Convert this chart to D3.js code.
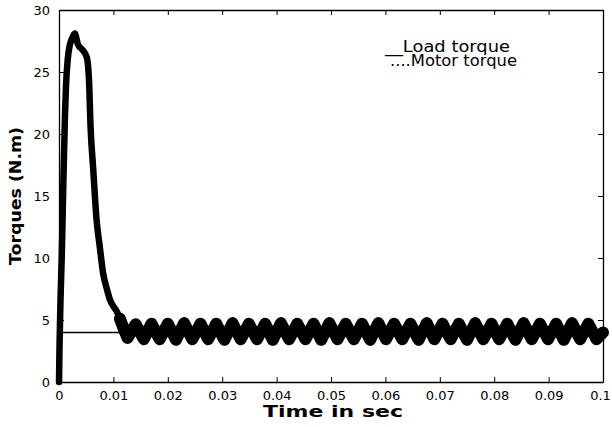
<!DOCTYPE html>
<html>
<head>
<meta charset="utf-8">
<script src="https://cdn.jsdelivr.net/npm/d3@7"></script>
<style>
  body { margin: 0; background: white; }
  text { font-family: "DejaVu Sans", sans-serif; fill: black; }
</style>
</head>
<body>
<svg id="chart" width="612" height="427"></svg>
<script>
// start-up part of the motor torque
var startT  = [0, 0.0001, 0.0003, 0.0005, 0.0007, 0.0009, 0.0011, 0.0013, 0.0016, 0.0020, 0.0025, 0.0029,
               0.0035, 0.0043, 0.0051, 0.0055, 0.0058, 0.0063, 0.0069, 0.0075, 0.0081, 0.0088, 0.0094,
               0.0100, 0.0106, 0.0112, 0.0118]
var startTq = [0, 3, 7, 10, 14, 18, 21.5, 24, 26, 27.2, 27.8, 28.1,
               27.2, 26.8, 26.2, 24.5, 20.6, 17.1, 13.1, 10.9, 8.8, 7.5, 6.6,
               6.1, 5.7, 5.1, 4.4]

// ripple in steady state: tops and bottoms of each wave
var peakT  = [0.0141, 0.0170, 0.0200, 0.0230, 0.0260, 0.0289, 0.0319, 0.0349, 0.0379, 0.0408,
              0.0438, 0.0468, 0.0497, 0.0527, 0.0557, 0.0587, 0.0616, 0.0646, 0.0676, 0.0705,
              0.0735, 0.0765, 0.0795, 0.0824, 0.0854, 0.0884, 0.0914, 0.0943, 0.0973]
var peakTq = [4.65, 4.7, 4.7, 4.75, 4.7, 4.7, 4.75, 4.7, 4.7, 4.75,
              4.7, 4.7, 4.75, 4.7, 4.7, 4.75, 4.7, 4.7, 4.75, 4.7,
              4.7, 4.75, 4.7, 4.7, 4.75, 4.7, 4.7, 4.75, 4.7]
var troughT  = [0.0126, 0.0156, 0.0185, 0.0215, 0.0245, 0.0274, 0.0304, 0.0334, 0.0364, 0.0393,
                0.0423, 0.0453, 0.0482, 0.0512, 0.0542, 0.0572, 0.0601, 0.0631, 0.0661, 0.0690,
                0.0720, 0.0750, 0.0780, 0.0809, 0.0839, 0.0869, 0.0899, 0.0928, 0.0958, 0.0988]
var troughTq = [3.55, 3.45, 3.45, 3.4, 3.45, 3.45, 3.4, 3.45, 3.45, 3.4,
                3.45, 3.45, 3.4, 3.45, 3.45, 3.4, 3.45, 3.45, 3.4, 3.45,
                3.45, 3.4, 3.45, 3.45, 3.4, 3.45, 3.45, 3.4, 3.45, 3.45]
var endT = [0.1000]
var endTq = [4.0]

var loadTorque = 4

var xTicks = [0, 0.01, 0.02, 0.03, 0.04, 0.05, 0.06, 0.07, 0.08, 0.09, 0.1]
var xTickLabels = ['0', '0.01', '0.02', '0.03', '0.04', '0.05', '0.06', '0.07', '0.08', '0.09', '0.1']
var yTicks = [0, 5, 10, 15, 20, 25, 30]

var svg = d3.select('#chart')
var margin = {left: 59, top: 10, right: 9, bottom: 45}
var W = 612 - margin.left - margin.right
var H = 427 - margin.top - margin.bottom

var x = d3.scaleLinear().domain([0, 0.1]).range([0, W])
var y = d3.scaleLinear().domain([0, 30]).range([H, 0])

var g = svg.append('g').attr('transform', `translate(${margin.left},${margin.top})`)

// put all motor points together, sorted by time
var motor = []
startT.forEach((t, i) => motor.push([t, startTq[i]]))
peakT.forEach((t, i) => motor.push([t, peakTq[i]]))
troughT.forEach((t, i) => motor.push([t, troughTq[i]]))
endT.forEach((t, i) => motor.push([t, endTq[i]]))
motor.sort((a, b) => a[0] - b[0])

// load torque
g.append('path')
  .datum([[0, loadTorque], [0.1, loadTorque]])
  .attr('d', d3.line().x(d => x(d[0])).y(d => y(d[1])))
  .attr('stroke', 'black')
  .attr('stroke-width', 1.5)
  .attr('fill', 'none')

// motor torque: start-up trace, then the dense ripple band
g.append('path')
  .datum(motor.filter(d => d[0] <= 0.0118))
  .attr('d', d3.line().x(d => x(d[0])).y(d => y(d[1])).curve(d3.curveMonotoneX))
  .attr('stroke', 'black')
  .attr('stroke-width', 6.5)
  .attr('stroke-linejoin', 'round')
  .attr('stroke-linecap', 'round')
  .attr('fill', 'none')

g.append('path')
  .datum(motor.filter(d => d[0] >= 0.0112))
  .attr('d', d3.line().x(d => x(d[0])).y(d => y(d[1])))
  .attr('stroke', 'black')
  .attr('stroke-width', 12)
  .attr('stroke-linejoin', 'round')
  .attr('stroke-linecap', 'round')
  .attr('fill', 'none')

// axes, matlab style: inward ticks on all sides
var fmtX = (d, i) => xTickLabels[i]
var xAx = g.append('g').attr('transform', `translate(0,${H})`)
  .call(d3.axisBottom(x).tickValues(xTicks).tickFormat(fmtX).tickSizeInner(-5).tickSizeOuter(0).tickPadding(9))
g.append('g')
  .call(d3.axisTop(x).tickValues(xTicks).tickFormat('').tickSizeInner(-5).tickSizeOuter(0))
g.append('g')
  .call(d3.axisLeft(y).tickValues(yTicks).tickFormat(d3.format('d')).tickSizeInner(-5).tickSizeOuter(0).tickPadding(9))
g.append('g').attr('transform', `translate(${W},0)`)
  .call(d3.axisRight(y).tickValues(yTicks).tickFormat('').tickSizeInner(-5).tickSizeOuter(0))

g.selectAll('.domain').attr('stroke', 'black').attr('stroke-width', 1.3)
g.selectAll('.tick line').attr('stroke', 'black')
g.selectAll('.tick text').style('font-family', '"DejaVu Sans", sans-serif').style('font-size', '13px').attr('fill', 'black')
// last label sits on the window edge, nudge it in
xAx.selectAll('.tick text').filter((d, i) => i == xTicks.length - 1).attr('dx', -3)

// axis titles
svg.append('text')
  .attr('x', margin.left + W / 2 + 2)
  .attr('y', 417)
  .attr('text-anchor', 'middle')
  .style('font-size', '16px')
  .style('font-weight', 'bold')
  .attr('textLength', 140)
  .attr('lengthAdjust', 'spacingAndGlyphs')
  .text('Time in sec')

svg.append('text')
  .attr('transform', `translate(21,${margin.top + H / 2}) rotate(-90)`)
  .attr('text-anchor', 'middle')
  .style('font-size', '15px')
  .style('font-weight', 'bold')
  .attr('textLength', 138)
  .attr('lengthAdjust', 'spacingAndGlyphs')
  .text('Torques (N.m)')

// legend written as plain text, like the original
svg.append('text').attr('x', 385).attr('y', 52).style('font-size', '15px')
  .attr('textLength', 125).attr('lengthAdjust', 'spacingAndGlyphs').text('__Load torque')
svg.append('text').attr('x', 390).attr('y', 66).style('font-size', '15px')
  .attr('textLength', 127).attr('lengthAdjust', 'spacingAndGlyphs').text('....Motor torque')
</script>
</body>
</html>
